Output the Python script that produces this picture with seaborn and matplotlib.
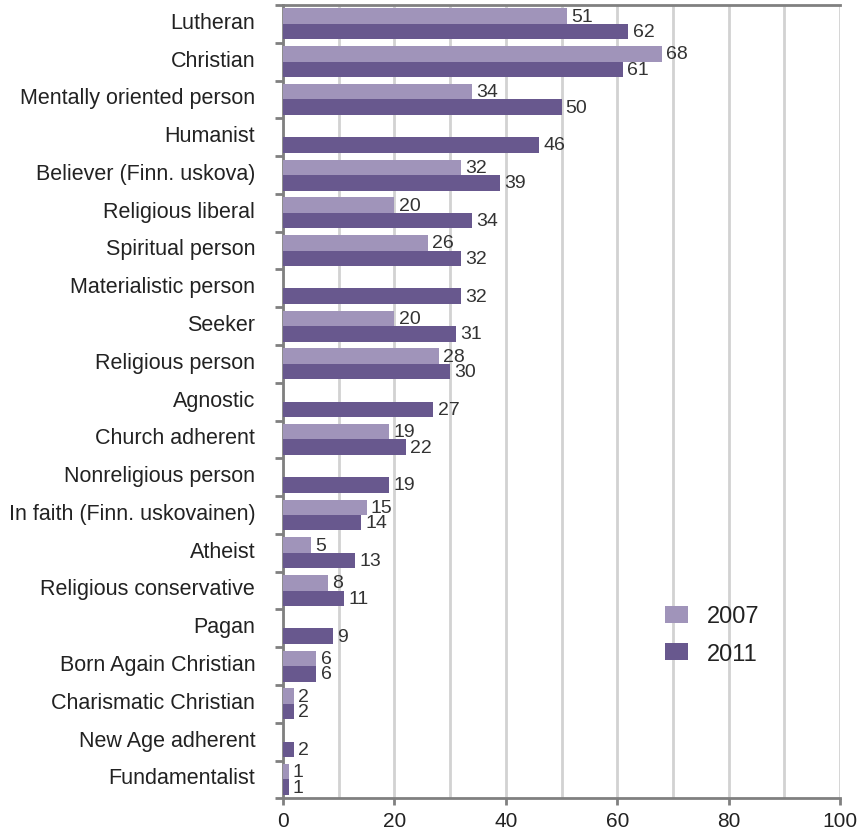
import numpy as np
import pandas as pd
import matplotlib
matplotlib.use("Agg")
import matplotlib.pyplot as plt
import matplotlib.transforms as mtransforms
import seaborn as sns
from matplotlib.ticker import MultipleLocator, FixedLocator

categories = [
    "Lutheran", "Christian", "Mentally oriented person", "Humanist",
    "Believer (Finn. uskova)", "Religious liberal", "Spiritual person",
    "Materialistic person", "Seeker", "Religious person", "Agnostic",
    "Church adherent", "Nonreligious person", "In faith (Finn. uskovainen)",
    "Atheist", "Religious conservative", "Pagan", "Born Again Christian",
    "Charismatic Christian", "New Age adherent", "Fundamentalist",
]
values_2007 = [51, 68, 34, np.nan, 32, 20, 26, np.nan, 20, 28, np.nan,
               19, np.nan, 15, 5, 8, np.nan, 6, 2, np.nan, 1]
values_2011 = [62, 61, 50, 46, 39, 34, 32, 32, 31, 30, 27,
               22, 19, 14, 13, 11, 9, 6, 2, 2, 1]
years = ["2007", "2011"]
x_ticks = [0, 20, 40, 60, 80, 100]

df = pd.DataFrame({
    "category": categories * 2,
    "value": values_2007 + values_2011,
    "year": [years[0]] * len(categories) + [years[1]] * len(categories),
})

sns.set_theme(style="white")
plt.rcParams["font.family"] = ["Liberation Sans", "DejaVu Sans"]

fig = plt.figure(figsize=(8.61, 8.37), dpi=100)
ax = fig.add_axes([0.3287, 0.045, 0.9756 - 0.3287, 0.9928 - 0.045])

palette = {"2007": "#a094ba", "2011": "#68588e"}
sns.barplot(data=df, y="category", x="value", hue="year", order=categories,
            hue_order=years, palette=palette, orient="h", width=0.82,
            saturation=1, linewidth=0, ax=ax, zorder=3)

for container in ax.containers:
    ax.bar_label(container, fmt="%g", padding=3, fontsize=14, color="#333333")

ax.set_xlim(0, 100)
ax.set_ylim(len(categories) - 0.5, -0.5)
ax.set_xlabel("")
ax.set_ylabel("")

ax.xaxis.set_major_locator(FixedLocator(x_ticks))
ax.xaxis.set_minor_locator(MultipleLocator(10))
ax.grid(axis="x", which="both", color="#d2d2d2", linewidth=2, zorder=0)
ax.set_axisbelow(True)

ax.tick_params(axis="x", which="major", length=5, width=2, color="#808080",
               labelsize=15, labelcolor="#222222", pad=4, direction="out",
               bottom=True)
ax.tick_params(axis="x", which="minor", length=0)
ax.tick_params(axis="y", which="major", length=0, labelsize=15.5,
               labelcolor="#222222", pad=20)
ax.yaxis.set_minor_locator(FixedLocator(np.arange(-0.5, len(categories), 1.0)))
ax.tick_params(axis="y", which="minor", length=6, width=2, color="#808080",
               left=True, direction="out")

# nudge category labels slightly upward
shift = mtransforms.ScaledTranslation(0, 3 / 72, fig.dpi_scale_trans)
for lbl in ax.get_yticklabels():
    lbl.set_transform(lbl.get_transform() + shift)

for side in ["left", "bottom", "top"]:
    ax.spines[side].set_visible(True)
    ax.spines[side].set_color("#808080")
    ax.spines[side].set_linewidth(2)
ax.spines["right"].set_visible(False)

leg = ax.legend(loc="upper left", bbox_to_anchor=(0.647, 0.27), frameon=False,
                fontsize=17, handlelength=1.0, handleheight=0.72,
                handletextpad=0.8, labelspacing=0.65)
for t in leg.get_texts():
    t.set_color("#222222")

fig.savefig("out.png", dpi=100)
